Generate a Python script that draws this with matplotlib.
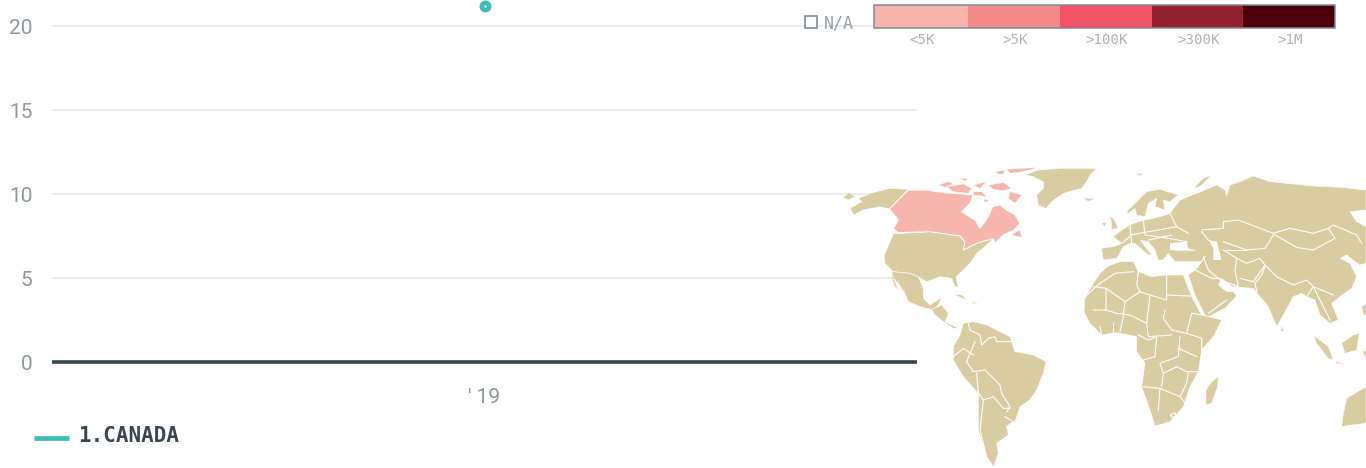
import matplotlib
matplotlib.use("Agg")
import matplotlib.pyplot as plt
from matplotlib.patches import Polygon, Rectangle

W, H = 1366, 468

# CHART DATA
years = ["' 19"]
canada_values = [21.2]
y_ticks = [0, 5, 10, 15, 20]
series_name = "1.CANADA"
scale_labels = ["<5K", ">5K", ">100K", ">300K", ">1M"]
scale_colors = ["#f6b6ad", "#f48a8a", "#f45266", "#92212f", "#4d0008"]
scale_edges = [874, 968, 1060, 1152, 1243, 1335]

TEAL = "#3dbdb9"
DARK = "#37474f"
GREY = "#8f979c"
LAND = "#d8cca0"
MONO = "DejaVu Sans Mono"

# MAP OUTLINES, west half
greenland = [(585,45),(625,30),(700,25),(800,25),(780,45),(770,65),(755,85),(700,100),(665,125),(648,145),(625,135),(620,105),(640,85),(640,65),(610,50)]
iceland = [(757,113),(795,115),(775,125)]
alaska = [(235,88),(178,147),(150,140),(100,150),(72,165),(60,145),(95,125),(85,115),(120,100),(180,85)]
chukotka = [(38,112),(58,98),(75,110),(55,120)]
canada = [(235,90),(178,147),(205,180),(190,205),(203,218),(300,215),(390,228),(405,245),(400,270),(440,250),(490,235),(495,250),(520,225),(552,210),(570,190),(555,165),(530,150),(510,135),(488,140),(475,170),(450,205),(437,182),(395,155),(420,130),(430,105),(400,102),(340,98),(290,90)]
canada_islands = [
    [(325,75),(355,65),(370,72),(345,82)],
    [(350,80),(400,72),(425,85),(415,100),(370,95)],
    [(385,55),(420,55),(405,62)],
    [(475,75),(520,68),(545,85),(520,92),(490,88)],
    [(495,35),(525,30),(520,42),(505,42)],
    [(530,28),(625,22),(580,35),(540,40)],
    [(540,95),(575,105),(555,130),(535,115)],
    [(430,75),(470,65),(450,85)],
    [(430,95),(455,95),(470,110),(430,105)],
    [(460,118),(478,120),(465,128)],
    [(545,222),(570,210),(575,232),(555,228)],
]
usa = [(190,222),(300,215),(390,228),(405,245),(400,270),(440,250),(490,235),(470,255),(440,280),(420,310),(395,335),(378,350),(385,380),(375,380),(365,355),(330,350),(290,365),(265,350),(240,340),(190,335),(165,310),(163,285),(178,250)]
mexico = [(185,335),(240,340),(265,350),(280,385),(280,415),(300,435),(335,412),(325,435),(310,450),(270,440),(235,425),(225,400),(205,370),(190,355)]
baja = [(183,338),(195,365),(207,392),(195,380),(185,355)]
central_america = [(305,448),(335,435),(355,460),(345,485),(385,505),(370,505),(340,485),(315,465)]
cuba = [(370,402),(395,405),(412,420),(390,412)]
hispaniola = [(428,425),(445,430),(430,432)]
south_america = [(400,490),(430,485),(470,495),(510,515),(540,530),(555,575),(610,585),(648,605),(640,640),(620,690),(600,720),(570,740),(555,785),(530,800),(535,825),(500,850),(505,880),(490,920),(470,890),(445,810),(445,700),(400,650),(370,600),(370,560),(390,525)]
south_america_borders = [
    [(415,490),(420,510),(450,525),(455,555),(475,535),(495,530),(500,545),(545,545)],
    [(435,545),(410,605),(430,635),(465,630),(510,675),(515,700),(540,740),(530,755)],
    [(440,640),(445,700),(460,720),(450,810),(470,890)],
    [(460,720),(490,710),(520,745),(540,745)],
    [(525,770),(550,785),(530,800)],
    [(370,590),(400,565),(430,585)],
]

# MAP OUTLINES, east half
africa = [(85,318),(120,305),(160,305),(175,335),(215,350),(260,345),(310,345),(335,410),(365,465),(425,480),(400,530),(365,570),(355,635),(330,680),(310,740),(270,785),(225,798),(210,750),(185,680),(195,610),(170,575),(170,530),(110,518),(65,525),(30,490),(12,455),(15,415),(40,370),(60,340)]
africa_borders = [
    [(60,370),(105,340),(160,335)],
    [(60,370),(15,410)],
    [(40,380),(78,385),(78,450),(40,450)],
    [(78,385),(135,425),(180,395),(210,405),(260,420),(260,345)],
    [(175,335),(170,375),(180,395)],
    [(260,405),(330,408)],
    [(210,405),(200,490),(150,465),(110,460),(78,450)],
    [(135,425),(130,465)],
    [(255,450),(250,475),(275,510),(320,520),(335,460),(370,465)],
    [(200,490),(205,530),(275,525)],
    [(175,525),(205,540),(230,530),(225,590),(190,600)],
    [(300,530),(295,590),(240,610),(250,640),(290,620),(320,635),(360,635)],
    [(320,520),(365,535),(365,570)],
    [(295,565),(350,590)],
    [(190,680),(240,685),(235,750)],
    [(240,685),(300,710),(320,735)],
    [(250,640),(245,680)],
    [(60,500),(65,525)],
    [(100,490),(100,520)],
    [(130,470),(120,515)],
    [(300,710),(320,670),(325,635)],
    [(272,765),(285,758),(288,768),(275,772),(272,765)],
]
madagascar = [(415,650),(413,680),(395,730),(378,735),(378,690),(395,665)]
eurasia = [(270,160),(300,120),(350,100),(410,75),(435,90),(440,108),(450,75),(480,65),(520,48),(570,65),(640,72),(700,78),(780,82),(858,90),(858,150),(810,155),(830,185),(858,200),(858,310),(838,315),(800,285),(780,295),(810,310),(830,350),(815,385),(780,410),(755,430),(775,480),(750,490),(720,465),(705,420),(680,410),(665,400),(640,410),(610,465),(590,500),(565,440),(540,410),(520,385),(480,382),(455,380),(425,355),(415,375),(440,395),(460,395),(470,408),(435,445),(385,470),(375,465),(345,405),(325,345),(345,330),(365,305),(285,305),(265,280),(250,300),(235,300),(225,270),(205,245),(180,240),(215,285),(205,285),(165,250),(150,250),(130,260),(110,295),(70,300),(65,265),(100,260),(125,250),(100,230),(125,210),(150,195),(175,185),(240,170)]
black_sea = [(270,250),(320,245),(325,265),(350,272),(290,272),(270,270)]
caspian = [(385,240),(410,245),(425,300),(400,300),(400,265)]
scandinavia = [(140,155),(170,125),(200,95),(240,88),(295,105),(270,125),(250,120),(255,150),(225,140),(230,115),(205,130),(195,170),(170,165),(165,145),(145,160)]
east_islands = [
    [(88,165),(103,180),(115,205),(95,208),(95,190)],
    [(65,190),(80,185),(75,200)],
    [(603,497),(612,512),(603,515)],
    [(700,525),(745,560),(760,600),(745,595),(710,550)],
    [(765,603),(805,615),(770,610)],
    [(785,550),(820,525),(838,520),(830,570),(795,580)],
    [(845,440),(858,430),(858,465),(850,465)],
    [(848,575),(858,570),(858,600)],
    [(858,680),(800,715),(790,760),(785,800),(815,795),(858,790)],
    [(165,40),(190,40),(180,48)],
    [(340,85),(370,55),(395,45),(360,80)],
    [(8,115),(48,115),(25,124)],
]
eurasia_borders = [
    [(365,210),(430,205),(430,185),(475,180),(540,205),(580,220),(630,205),(700,220),(745,205),(760,195),(830,225),(845,250)],
    [(585,225),(650,262),(700,270),(765,235),(745,205)],
    [(365,215),(385,240)],
    [(430,245),(500,270),(555,265),(580,225)],
    [(370,290),(385,330),(420,360),(475,380),(465,330),(470,295),(430,270)],
    [(470,295),(500,310),(540,295),(555,315),(520,365),(480,355)],
    [(555,315),(590,350),(640,375),(680,360),(700,380),(680,410)],
    [(555,320),(545,345),(525,370),(530,395)],
    [(700,380),(760,405)],
    [(700,380),(725,430),(750,480)],
    [(150,195),(155,250)],
    [(125,250),(150,230)],
    [(190,180),(195,225),(265,235),(320,245)],
    [(270,160),(290,200),(325,220)],
    [(150,225),(290,200)],
    [(205,240),(275,225)],
    [(345,330),(395,355),(420,355)],
    [(385,460),(440,420)],
    [(345,330),(375,290)],
    [(430,270),(500,270)],
]

plt.rcParams["font.family"] = ["Roboto", "DejaVu Sans"]

fig = plt.figure(figsize=(W / 100, H / 100), dpi=100)

# main chart, zero line sits at pixel row 362, 16.8 px per unit
ax = fig.add_axes([52 / W, 1 - 362 / H, 865 / W, 362 / H])
ax.set_xlim(-0.5, 0.5)
ax.set_ylim(0, 362 / 16.8)
ax.plot(range(len(years)), canada_values, "o", color=TEAL, ms=8.6, mec="none", zorder=4)
ax.plot(range(len(years)), canada_values, "o", color="#e8f5e0", ms=1.8, mec="none", zorder=5)
ax.set_xticks(range(len(years)), years)
ax.set_yticks(y_ticks)
ax.grid(axis="y", color="#e8eaec", lw=1.3)
ax.set_axisbelow(True)
ax.axhline(0, color=DARK, lw=2.6, zorder=3, clip_on=False, solid_capstyle="butt")
ax.tick_params(axis="both", length=0, labelcolor=GREY, labelsize=15)
ax.tick_params(axis="x", pad=19)
ax.tick_params(axis="y", pad=14)
for s in ax.spines.values():
    s.set_visible(False)
ax.patch.set_alpha(0)

# overlay in pixel rows for map and legends
ov = fig.add_axes([0, 0, 1, 1])
ov.set_xlim(0, W)
ov.set_ylim(H, 0)
ov.axis("off")
ov.patch.set_alpha(0)


def land(pts, x0, color=LAND, lw=0.7):
    pts = [(x0 + x / 3, 160 + y / 3) for x, y in pts]
    ov.add_patch(Polygon(pts, closed=True, fc=color, ec="white", lw=lw, zorder=2))


def border(pts, x0):
    ov.plot([x0 + p[0] / 3 for p in pts], [160 + p[1] / 3 for p in pts], color="white", lw=0.8, zorder=3)


WEST, EAST = 830, 1080
for shape in [greenland, iceland, alaska, chukotka, usa, mexico, baja, central_america, cuba, hispaniola, south_america]:
    land(shape, WEST, lw=0.4)
land(canada, WEST, scale_colors[0])
for shape in canada_islands:
    land(shape, WEST, scale_colors[0], lw=0.3)
for line in south_america_borders:
    border(line, WEST)

for shape in [africa, madagascar, eurasia, scandinavia] + east_islands:
    land(shape, EAST, lw=0.4)
for shape in [black_sea, caspian]:
    land(shape, EAST, "white", lw=0)
for line in africa_borders + eurasia_borders:
    border(line, EAST)

# colour scale
for i, c in enumerate(scale_colors):
    ov.add_patch(Rectangle((scale_edges[i], 5), scale_edges[i + 1] - scale_edges[i], 23, fc=c, ec="none", zorder=5))
    ov.text((scale_edges[i] + scale_edges[i + 1]) / 2 + 1, 40, scale_labels[i], family=MONO,
            fontsize=10.2, color="#aeb4b9", ha="center", va="center", zorder=6)
ov.add_patch(Rectangle((874, 5), 461, 23, fc="none", ec="#7f8c96", lw=1.1, zorder=6))

ov.add_patch(Rectangle((805, 16), 12, 12, fc="white", ec="#7f8c96", lw=1.2, zorder=6))
ov.text(824, 23, "N/A", family=MONO, fontsize=12, color="#98a0a6", va="center", zorder=6)

# series legend
ov.plot([34, 69], [437.5, 437.5], color=TEAL, lw=3.4, solid_capstyle="butt")
ov.text(78, 436, series_name, family=MONO, weight="bold", fontsize=15, color=DARK, va="center")

plt.savefig("out.png", dpi=100)
